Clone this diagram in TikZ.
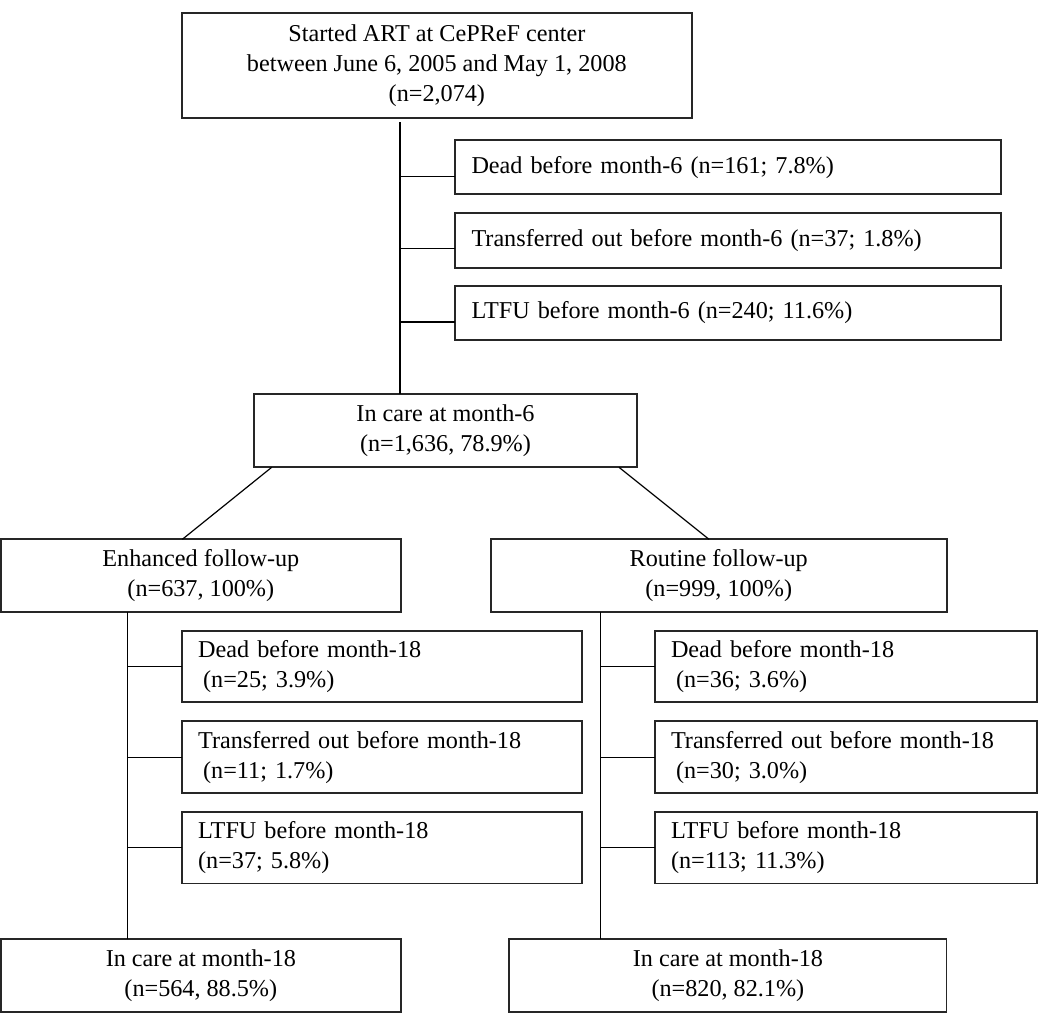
\documentclass[tikz,border=0pt]{standalone}
\usepackage{fontspec}
\setmainfont{Liberation Serif}
\begin{document}
\begin{tikzpicture}[x=1pt,y=-1pt,
  every node/.style={font=\fontsize{24.2pt}{30pt}\selectfont, inner sep=0pt, outer sep=0pt},
  cbox/.style={draw=black!85, line width=1.7pt, align=center},
  lbox/.style={draw=black!85, line width=1.7pt, align=left, inner xsep=16pt, text width=#1},
  conn/.style={draw=black, line width=1.2pt}]
\useasboundingbox (0,0) rectangle (1050,1020);

% top level
\node[cbox, minimum width=510.3pt, minimum height=105pt] (top) at (436.85,65.2)
  {Started ART at CePReF center\\between June 6, 2005 and May 1, 2008\\(n=2,074)};
\node[lbox=513pt, minimum width=546pt, minimum height=54.3pt] (sd6) at (728,167.15)
  {Dead before month-6 (n=161; 7.8\%)};
\node[lbox=513pt, minimum width=546pt, minimum height=55pt] (st6) at (728,240.2)
  {Transferred out before month-6 (n=37; 1.8\%)};
\node[lbox=513pt, minimum width=546pt, minimum height=54.3pt] (sl6) at (728,312.85)
  {LTFU before month-6 (n=240; 11.6\%)};
\node[cbox, minimum width=382.4pt, minimum height=73pt] (care6) at (445.5,430.8)
  {In care at month-6\\(n=1,636, 78.9\%)};

% arms
\node[cbox, minimum width=399.7pt, minimum height=73pt] (enh) at (200.85,575.8)
  {Enhanced follow-up\\(n=637, 100\%)};
\node[cbox, minimum width=456pt, minimum height=73pt] (rou) at (718.7,575.8)
  {Routine follow-up\\(n=999, 100\%)};

% left sub-boxes
\node[lbox=368pt, minimum width=400.3pt, minimum height=71.3pt] (ld) at (382.15,666.35)
  {Dead before month-18\\\hspace*{5pt}(n=25; 3.9\%)};
\node[lbox=368pt, minimum width=400.3pt, minimum height=71.7pt] (lt) at (382.15,757.15)
  {Transferred out before month-18\\\hspace*{5pt}(n=11; 1.7\%)};
\node[lbox=368pt, minimum width=400.3pt, minimum height=71.3pt] (ll) at (382.15,847.85)
  {LTFU before month-18\\(n=37; 5.8\%)};

% right sub-boxes
\node[lbox=350pt, minimum width=382.6pt, minimum height=71.3pt] (rd) at (846,666.35)
  {Dead before month-18\\\hspace*{5pt}(n=36; 3.6\%)};
\node[lbox=350pt, minimum width=382.6pt, minimum height=71.7pt] (rt) at (846,757.15)
  {Transferred out before month-18\\\hspace*{5pt}(n=30; 3.0\%)};
\node[lbox=350pt, minimum width=382.6pt, minimum height=71.3pt] (rl) at (846,847.85)
  {LTFU before month-18\\(n=113; 11.3\%)};

% bottom
\node[cbox, minimum width=399.7pt, minimum height=73.3pt] (cl) at (200.85,975.65)
  {In care at month-18\\(n=564, 88.5\%)};
\node[cbox, minimum width=437.2pt, minimum height=73.3pt] (cr) at (727.9,975.65)
  {In care at month-18\\(n=820, 82.1\%)};

% trunk from top
\coordinate (trunk) at (400,122);
\draw[conn] (trunk) -- (trunk |- care6.north);
\coordinate (b1) at ([yshift=-9.5pt]sd6.west);
\coordinate (b2) at ([yshift=-8.5pt]st6.west);
\coordinate (b3) at ([yshift=-9.2pt]sl6.west);
\draw[conn] (b1) -- (b1 -| trunk);
\draw[conn] (b2) -- (b2 -| trunk);
\draw[conn] (b3) -- (b3 -| trunk);

% diagonals
\draw[conn] ([xshift=-173.8pt]care6.south) -- ([xshift=-18.5pt]enh.north);
\draw[conn] ([xshift=173.5pt]care6.south) -- ([xshift=-9.7pt]rou.north);

% left trunk
\coordinate (lv) at ([xshift=-73.5pt]enh.south);
\draw[conn] (lv) -- (lv |- cl.north);
\draw[conn] (ld.west) -- (ld.west -| lv);
\draw[conn] (lt.west) -- (lt.west -| lv);
\draw[conn] (ll.west) -- (ll.west -| lv);

% right trunk
\coordinate (rv) at ([xshift=-118pt]rou.south);
\draw[conn] (rv) -- (rv |- cr.north);
\draw[conn] (rd.west) -- (rd.west -| rv);
\draw[conn] (rt.west) -- (rt.west -| rv);
\draw[conn] (rl.west) -- (rl.west -| rv);
\end{tikzpicture}
\end{document}
